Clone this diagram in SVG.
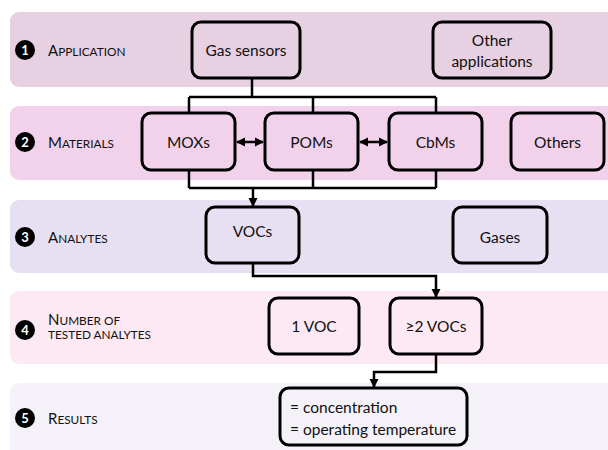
<svg xmlns="http://www.w3.org/2000/svg" width="608" height="450" viewBox="0 0 608 450">
<style>
.band{stroke:none}
.box{fill:none;stroke:#000;stroke-width:3}
.t{font-family:Lato,"Liberation Sans",sans-serif;font-size:15.5px;fill:#111;text-anchor:middle}
.lbl{font-family:Lato,"Liberation Sans",sans-serif;fill:#111}
.big{font-size:15px}
.sm{font-size:11.8px}
.num{font-family:Lato,"Liberation Sans",sans-serif;font-size:13px;fill:#fff;text-anchor:middle;font-weight:bold}
.c{fill:none;stroke:#000;stroke-width:2.5}
</style>
<defs>
<marker id="ah" markerUnits="userSpaceOnUse" markerWidth="10" markerHeight="10" refX="8" refY="5" orient="auto-start-reverse" viewBox="0 0 10 10">
<path d="M0,0.5 L9,5 L0,9.5 Z" fill="#000"/>
</marker>
</defs>
<g id="bands">
<rect class="band" x="10" y="12" width="620" height="75" rx="9" fill="#e6d0e1"/>
<rect class="band" x="10" y="106" width="620" height="74" rx="9" fill="#f2d1eb"/>
<rect class="band" x="10" y="200" width="620" height="73" rx="9" fill="#e7dff2"/>
<rect class="band" x="10" y="291" width="620" height="73" rx="9" fill="#fce9f3"/>
<rect class="band" x="10" y="383" width="620" height="80" rx="9" fill="#f4f2f8"/>
</g>
<g id="labels">
<circle cx="25" cy="50" r="10" fill="#000"/><text class="num" x="25" y="55">1</text>
<text class="lbl" x="48" y="56"><tspan class="big">A</tspan><tspan class="sm">PPLICATION</tspan></text>
<circle cx="25" cy="142" r="10" fill="#000"/><text class="num" x="25" y="147">2</text>
<text class="lbl" x="48" y="148"><tspan class="big">M</tspan><tspan class="sm">ATERIALS</tspan></text>
<circle cx="25" cy="237" r="10" fill="#000"/><text class="num" x="25" y="242">3</text>
<text class="lbl" x="48" y="243"><tspan class="big">A</tspan><tspan class="sm">NALYTES</tspan></text>
<circle cx="25" cy="330" r="10" fill="#000"/><text class="num" x="25" y="335">4</text>
<text class="lbl" x="48" y="325"><tspan class="big">N</tspan><tspan class="sm">UMBER OF</tspan></text>
<text class="lbl sm" x="48" y="339">TESTED ANALYTES</text>
<circle cx="25" cy="418" r="10" fill="#000"/><text class="num" x="25" y="423">5</text>
<text class="lbl" x="48" y="424"><tspan class="big">R</tspan><tspan class="sm">ESULTS</tspan></text>
</g>
<g id="connectors">
<path class="c" d="M252,78 V97 M189,97 H436 M189,97 V113 M313,97 V113 M436,97 V113"/>
<path class="c" d="M189,170 V188 M313,170 V188 M436,170 V188 M189,188 H436"/>
<path class="c" d="M253,188 V206" marker-end="url(#ah)"/>
<path class="c" d="M253,263 V276 H436 V297" marker-end="url(#ah)"/>
<path class="c" d="M436,354 V372 H374 V387" marker-end="url(#ah)"/>
<path class="c" d="M237,142 H263" marker-start="url(#ah)" marker-end="url(#ah)"/>
<path class="c" d="M360,142 H387" marker-start="url(#ah)" marker-end="url(#ah)"/>
</g>
<g id="n-gas"><rect class="box" x="192" y="22" width="108" height="56" rx="9"/><text class="t" x="246" y="56">Gas sensors</text></g>
<g id="n-other-app"><rect class="box" x="433" y="22" width="118" height="56" rx="9"/><text class="t" x="492" y="46">Other</text><text class="t" x="492" y="67">applications</text></g>
<g id="n-mox"><rect class="box" x="142" y="113" width="93" height="57" rx="9"/><text class="t" x="188.5" y="148">MOXs</text></g>
<g id="n-pom"><rect class="box" x="265" y="113" width="93" height="57" rx="9"/><text class="t" x="311.5" y="148">POMs</text></g>
<g id="n-cbm"><rect class="box" x="389" y="113" width="93" height="57" rx="9"/><text class="t" x="435.5" y="148">CbMs</text></g>
<g id="n-others"><rect class="box" x="511" y="113" width="93" height="57" rx="9"/><text class="t" x="557.5" y="148">Others</text></g>
<g id="n-vocs"><rect class="box" x="206" y="207" width="93" height="56" rx="9"/><text class="t" x="252.5" y="237">VOCs</text></g>
<g id="n-gases"><rect class="box" x="453" y="207" width="94" height="56" rx="9"/><text class="t" x="500" y="243">Gases</text></g>
<g id="n-1voc"><rect class="box" x="269" y="298" width="90" height="56" rx="9"/><text class="t" x="314" y="332">1 VOC</text></g>
<g id="n-2voc"><rect class="box" x="390" y="298" width="92" height="56" rx="9"/><text class="t" x="436" y="332">≥2 VOCs</text></g>
<g id="n-results"><rect class="box" x="280" y="388" width="187" height="57" rx="9"/>
<text class="t" x="290" y="413" style="text-anchor:start">= concentration</text>
<text class="t" x="290" y="435" style="text-anchor:start">= operating temperature</text></g>
</svg>
